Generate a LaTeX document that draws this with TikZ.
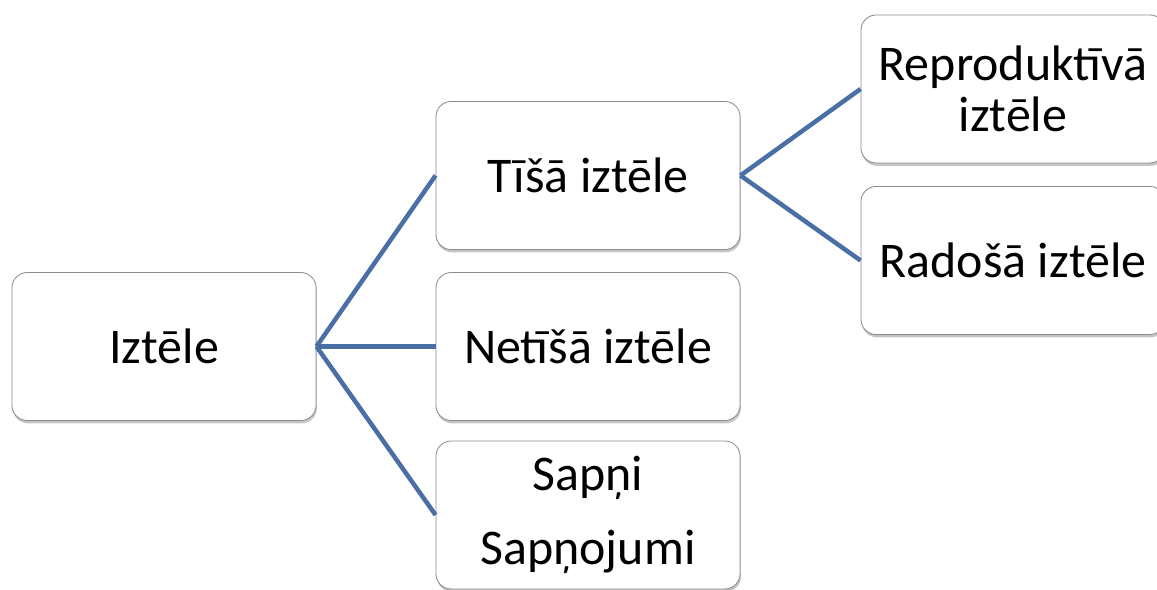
\documentclass[tikz,border=0pt]{standalone}
\usepackage{fontspec}
\setmainfont{Carlito}
\usepackage{tikz}
\usetikzlibrary{shadows}
\usetikzlibrary{calc}
\definecolor{linkblue}{RGB}{74,111,165}
\tikzstyle{box}=[rectangle,rounded corners=0.38cm,draw=black!45,fill=white,line width=0.6pt,
  minimum width=7.6cm,minimum height=3.7cm,inner sep=2pt,align=center,
  font=\fontsize{35.5}{36.5}\selectfont,
  drop shadow={shadow xshift=0.6pt,shadow yshift=-2pt,fill=black!45,opacity=0.5}]
\tikzstyle{link} = [draw,linkblue,line width=3.2pt]

\begin{document}
\begin{tikzpicture}[x=0.025cm,y=-0.025cm]
    \useasboundingbox (0,0) rectangle (1157,590);
    % First we draw the boxes
    \foreach \pos/ \name/ \text in {{(164,346.5)/iztele/Iztēle},{(588,175.5)/tisa/Tīšā iztēle},
        {(588,346.5)/netisa/Netīšā iztēle},{(588,515)/sapni/{Sapņi\\[16pt]Sapņojumi}}}
        \node[box] (\name) at \pos {\text};

    \foreach \pos/ \name/ \text in {{(1013,89)/repro/{Reproduktīvā\\iztēle}},{(1013,260.5)/rados/Radošā iztēle}}
        \node[box] (\name) at \pos {\text};

    % Connect boxes with lines
    \foreach \source/ \dest in {iztele/tisa, iztele/netisa, iztele/sapni, tisa/repro, tisa/rados}
        \path[link] (\source.east) -- (\dest.west);
\end{tikzpicture}
\end{document}
